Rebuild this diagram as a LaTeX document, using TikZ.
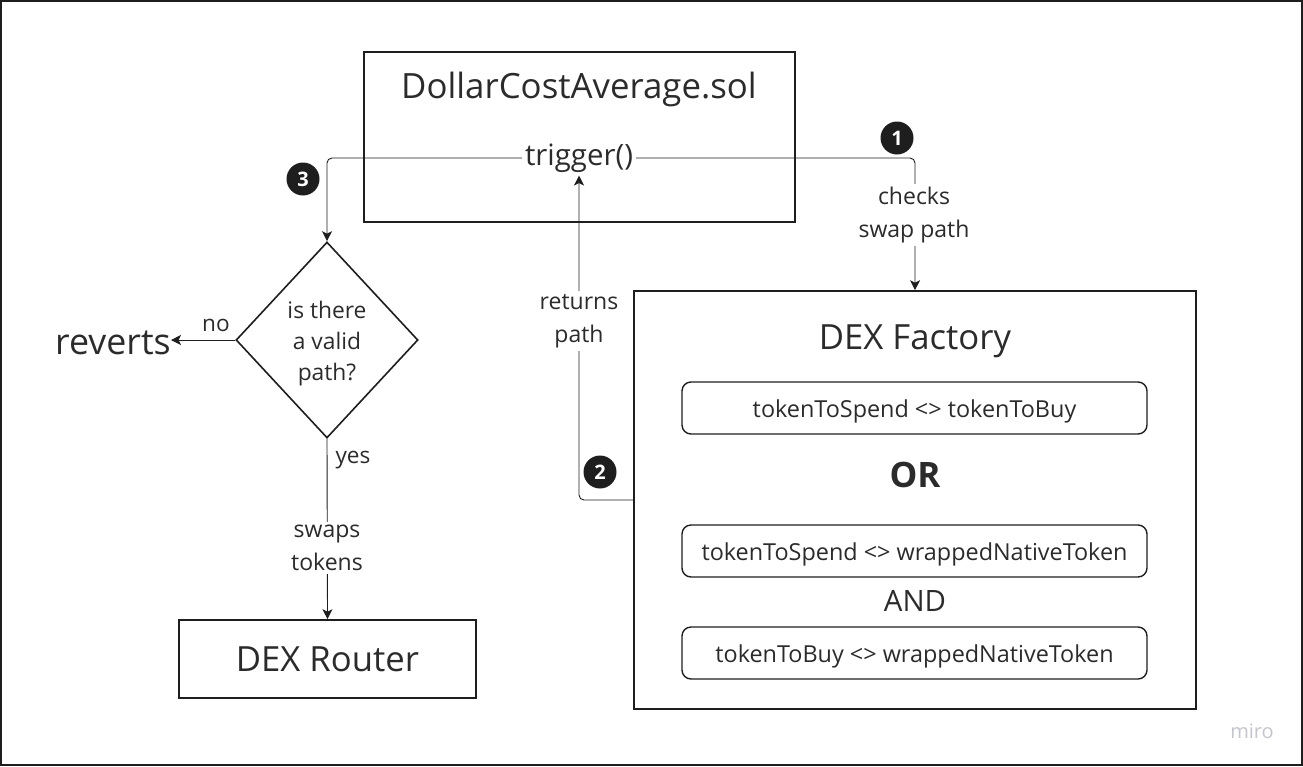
\documentclass[tikz,border=0pt]{standalone}
\usepackage{fontspec}
\setmainfont{Open Sans}
\usetikzlibrary{shapes.geometric,arrows.meta}
\definecolor{ink}{HTML}{1E1E1E}
\definecolor{lbl}{HTML}{2B2B2B}
\definecolor{mirogray}{HTML}{C4C4CE}
\begin{document}
\begin{tikzpicture}[x=1pt,y=-1pt,
  box/.style={draw=ink,line width=1.6pt,rectangle,inner sep=0pt,text=lbl},
  rbox/.style={draw=ink,line width=1.4pt,rounded corners=9pt,minimum width=465pt,minimum height=52pt,inner sep=0pt,font=\fontsize{23.4}{26}\selectfont,text=lbl,text height=20pt,text depth=1.5pt},
  conn/.style={draw=ink,line width=0.9pt,rounded corners=5pt},
  arr/.style={-{Stealth[length=10pt,width=10pt,inset=2.5pt]}},
  lab/.style={fill=white,inner sep=3pt,align=center,text=lbl,font=\fontsize{23}{33}\selectfont},
  plain/.style={inner sep=0pt,text=lbl},
  badge/.style={circle,fill=ink,text=white,minimum size=33pt,inner sep=0pt,font=\bfseries\fontsize{20}{20}\selectfont}]
\useasboundingbox (0,0) rectangle (1303,766);
\draw[ink,line width=2pt] (1,1) rectangle (1302,765);

% main contract box
\node[box,minimum width=431pt,minimum height=170pt] (dca) at (579.5,137) {};
\node[plain,font=\fontsize{34.8}{40}\selectfont] (dcat) at (579,89) {DollarCostAverage.sol};
\node[plain,inner sep=3pt,font=\fontsize{29.4}{32}\selectfont] (trig) at (579,158) {trigger()};

% decision
\node[diamond,draw=ink,line width=1.6pt,minimum width=182pt,minimum height=196pt,inner sep=0pt] (dia) at (327,340) {};
\node[plain,align=center,font=\fontsize{22.8}{31}\selectfont] (diat) at (327,344) {is there\\a valid\\path?};
\node[plain,font=\fontsize{35.8}{40}\selectfont] (rev) at (113,343) {reverts};

% router
\node[box,minimum width=297pt,minimum height=78pt,font=\fontsize{34.7}{38}\selectfont] (rtr) at (327.5,659) {DEX Router};

% factory
\node[box,minimum width=562pt,minimum height=418pt] (fac) at (915,500) {};
\node[plain,font=\fontsize{34.7}{38}\selectfont] (fact) at (915,341) {DEX Factory};
\node[rbox] (p1) at (914.5,408) {tokenToSpend <> tokenToBuy};
\node[plain,font=\bfseries\fontsize{35}{38}\selectfont] (or) at (915,475) {OR};
\node[rbox] (p2) at (914.5,551) {tokenToSpend <> wrappedNativeToken};
\node[plain,font=\fontsize{29.4}{32}\selectfont] (and) at (915,601) {AND};
\node[rbox] (p3) at (914.5,653) {tokenToBuy <> wrappedNativeToken};

% connectors
\draw[conn,arr] (trig.east) -| (fac.north);
\node[lab] (chk) at (914,215) {checks\\swap path};
\draw[conn,arr] (trig.west) -| (dia.north);
\draw[conn,arr] (fac.west) -| (trig.south);
\node[lab] (ret) at (579,321) {returns\\path};
\draw[conn,arr] (dia.west) -- (rev.east |- dia.west);
\node[plain,font=\fontsize{22.6}{26}\selectfont] (no) at (216,325) {no};
\draw[conn,arr] (dia.south) -- (rtr.north);
\node[plain,font=\fontsize{22.6}{26}\selectfont] (yes) at (353,460) {yes};
\node[lab] (swp) at (327,548) {swaps\\tokens};

% badges
\node[badge] (b1) at (897,138) {1};
\node[badge] (b2) at (600,472) {2};
\node[badge] (b3) at (303,179) {3};

\node[text=mirogray,font=\fontsize{20}{20}\selectfont] (miro) at (1252,731) {miro};
\end{tikzpicture}
\end{document}
